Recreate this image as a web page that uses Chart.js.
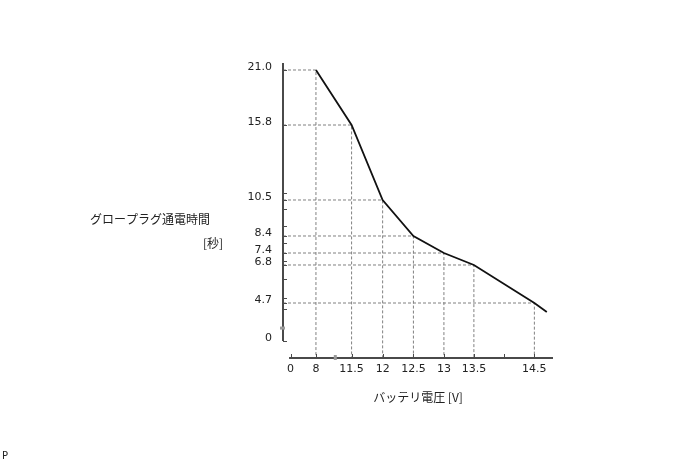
<!DOCTYPE html>
<html lang="ja">
<head>
<meta charset="UTF-8" />
<title>グロープラグ通電時間</title>
<script src="https://cdn.jsdelivr.net/npm/chart.js"></script>
<style>
  html, body { margin: 0; padding: 0; background: #fff; }
</style>
</head>
<body>
<canvas id="myChart" width="688" height="463"></canvas>
<script>
// battery voltage [V] -> glow plug energizing time [s]
var voltage = [8, 11.5, 12, 12.5, 13, 13.5, 14.5, 14.7];
var seconds = [21.0, 15.8, 10.5, 8.4, 7.4, 6.8, 4.7, 3.6];

var xTicks = [0, 8, 11.5, 12, 12.5, 13, 13.5, 14.5];
var xTickLabels = ["0", "8", "11.5", "12", "12.5", "13", "13.5", "14.5"];
var yTicks = [0, 4.7, 6.8, 7.4, 8.4, 10.5, 15.8, 21.0];
var yTickLabels = ["0", "4.7", "6.8", "7.4", "8.4", "10.5", "15.8", "21.0"];
var xMinor = [14];
var yMinor = [4, 5, 6, 7, 8, 9, 10, 11];

// the drawing is schematic: both axes are broken, so map value -> axis fraction piecewise
var xKnots = [[-2.35, 0], [0, 0.028], [8, 0.122], [11.5, 0.254], [12, 0.369], [12.5, 0.483],
              [13, 0.596], [13.5, 0.707], [14.5, 0.931], [14.8, 1]];
var yKnots = [[-2.1, 0], [0, 0.0576], [4.7, 0.1864], [6.8, 0.3153], [7.4, 0.3559], [8.4, 0.4136],
              [10.5, 0.5356], [15.8, 0.7898], [21, 0.9763], [21.66, 1]];

class BrokenScale extends Chart.LinearScale {
  buildTicks() {
    return this.options.tickValues.map(function (v) { return { value: v }; });
  }
  toDecimal(v) {
    var k = this.options.knots, i = 0;
    while (i < k.length - 2 && v > k[i + 1][0]) i++;
    var a = k[i], b = k[i + 1];
    return a[1] + (v - a[0]) * (b[1] - a[1]) / (b[0] - a[0]);
  }
  getPixelForValue(v) {
    return this.getPixelForDecimal(this.toDecimal(v));
  }
  getValueForPixel(p) {
    var d = this.getDecimalForPixel(p);
    var k = this.options.knots, i = 0;
    while (i < k.length - 2 && d > k[i + 1][1]) i++;
    var a = k[i], b = k[i + 1];
    return a[0] + (d - a[1]) * (b[0] - a[0]) / (b[1] - a[1]);
  }
}
BrokenScale.id = "broken";
BrokenScale.defaults = {};
Chart.register(BrokenScale);

var xMin = xKnots[0][0], xMax = xKnots[xKnots.length - 1][0];
var yMin = yKnots[0][0], yMax = yKnots[yKnots.length - 1][0];

var datasets = [{
  data: voltage.map(function (v, i) { return { x: v, y: seconds[i] }; }),
  showLine: true,
  borderColor: "#111",
  borderWidth: 1.8,
  pointRadius: 0,
  tension: 0
}];
// dashed drop lines from each labelled point to both axes
voltage.forEach(function (v, i) {
  if (xTicks.indexOf(v) < 0) return;
  datasets.push({
    data: [{ x: xMin, y: seconds[i] }, { x: v, y: seconds[i] }, { x: v, y: yMin }],
    showLine: true,
    borderColor: "#808080",
    borderWidth: 1,
    borderDash: [3, 2],
    pointRadius: 0,
    tension: 0
  });
});

var tickFont = { family: "DejaVu Sans", size: 11 };

var decor = {
  id: "decor",
  afterDatasetsDraw: function (chart) {
    var ctx = chart.ctx, a = chart.chartArea;
    var xs = chart.scales.x, ys = chart.scales.y;
    var y0 = ys.getPixelForValue(0), x0 = xs.getPixelForValue(0);
    ctx.save();
    ctx.strokeStyle = "#4a4a4a";
    ctx.lineWidth = 2;
    ctx.beginPath();
    ctx.moveTo(a.left, a.top);
    ctx.lineTo(a.left, y0);
    ctx.moveTo(x0 - 1.5, a.bottom);
    ctx.lineTo(a.right, a.bottom);
    ctx.stroke();
    ctx.lineWidth = 1;
    ctx.beginPath();
    yTicks.concat(yMinor).forEach(function (v) {
      var p = Math.round(ys.getPixelForValue(v)) + 0.5;
      ctx.moveTo(a.left, p);
      ctx.lineTo(a.left + 4, p);
    });
    xTicks.concat(xMinor).forEach(function (v) {
      var p = Math.round(xs.getPixelForValue(v)) + 0.5;
      ctx.moveTo(p, a.bottom);
      ctx.lineTo(p, a.bottom - 4);
    });
    ctx.stroke();
    // little break marks on both axes
    ctx.fillStyle = "#9a9a9a";
    ctx.fillRect(xs.getPixelForValue(9.9) - 1.5, a.bottom - 3, 3, 5);
    ctx.fillRect(a.left - 3, ys.getPixelForValue(1.6) - 1.5, 5, 3);
    ctx.restore();
  },
  afterDraw: function (chart) {
    var ctx = chart.ctx, a = chart.chartArea;
    ctx.save();
    ctx.fillStyle = "#222";
    ctx.textBaseline = "middle";
    ctx.font = '12px "Noto Sans CJK JP"';
    ctx.textAlign = "left";
    ctx.fillText("グロープラグ通電時間", 90, 219);
    ctx.textAlign = "right";
    ctx.fillText("[秒]", 223, 243);
    ctx.textAlign = "center";
    ctx.fillText("バッテリ電圧 [V]", (a.left + a.right) / 2, 397);
    ctx.font = '10px "DejaVu Sans"';
    ctx.textAlign = "left";
    ctx.fillText("P", 2, 456);
    ctx.restore();
  }
};

new Chart(document.getElementById("myChart").getContext("2d"), {
  type: "scatter",
  data: { datasets: datasets },
  options: {
    responsive: false,
    animation: false,
    events: [],
    layout: { padding: { left: 243, right: 135, top: 63, bottom: 75 } },
    plugins: { legend: { display: false }, tooltip: { enabled: false } },
    scales: {
      x: {
        type: "broken",
        position: "bottom",
        min: xMin,
        max: xMax,
        knots: xKnots,
        tickValues: xTicks,
        grid: { display: false, drawTicks: false },
        border: { display: false },
        ticks: {
          autoSkip: false,
          maxRotation: 0,
          padding: 5,
          color: "#222",
          font: tickFont,
          callback: function (v, i) { return xTickLabels[i]; }
        },
        afterFit: function (s) { s.height = 30; }
      },
      y: {
        type: "broken",
        position: "left",
        min: yMin,
        max: yMax,
        knots: yKnots,
        tickValues: yTicks,
        grid: { display: false, drawTicks: false },
        border: { display: false },
        ticks: {
          autoSkip: false,
          padding: 11,
          labelOffset: -3,
          color: "#222",
          font: tickFont,
          callback: function (v, i) { return yTickLabels[i]; }
        },
        afterFit: function (s) { s.width = 40; }
      }
    }
  },
  plugins: [decor]
});
</script>
</body>
</html>
